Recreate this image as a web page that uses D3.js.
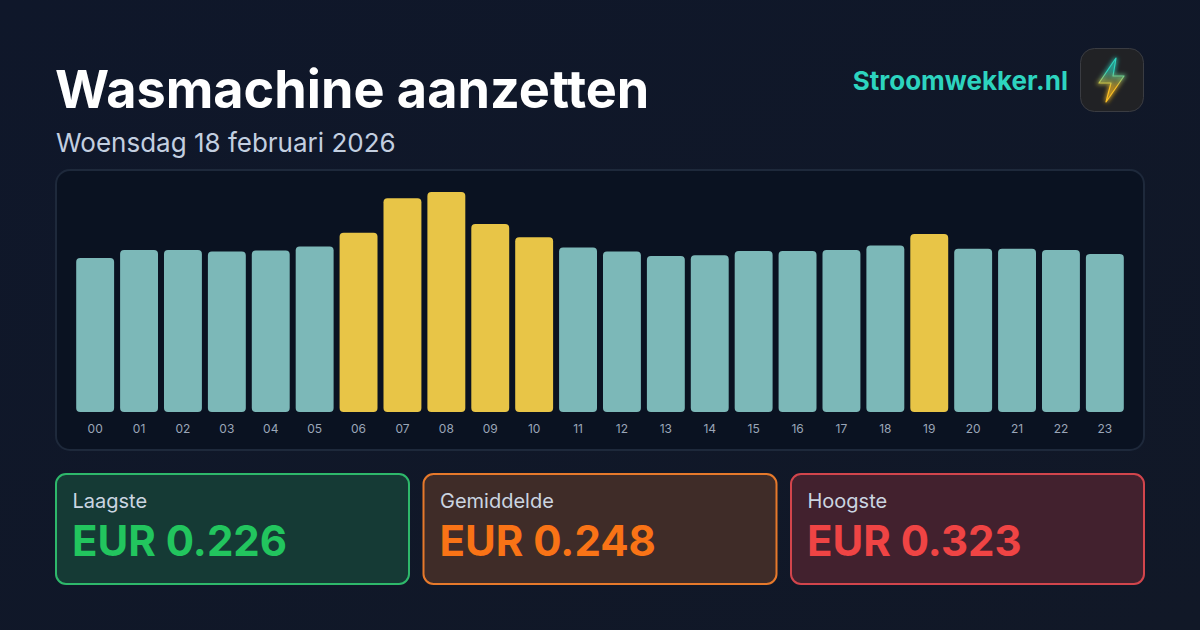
<!DOCTYPE html>
<html><head><meta charset="utf-8">
<script src="https://cdn.jsdelivr.net/npm/d3@7"></script>
<style>
html,body{margin:0;padding:0;background:#0f172a;overflow:hidden}
text{font-family:Inter,sans-serif}
</style></head><body>
<svg id="c" width="1200" height="630"></svg>
<script>
const hours=["00","01","02","03","04","05","06","07","08","09","10","11","12","13","14","15","16","17","18","19","20","21","22","23"];
const prices=[0.226,0.238,0.238,0.2356,0.237,0.243,0.263,0.314,0.323,0.276,0.2565,0.2415,0.2356,0.229,0.230,0.2364,0.2364,0.238,0.2445,0.2612,0.2395,0.2395,0.238,0.232];
const bestHours=["06","07","08","09","10","19"];
const title="Wasmachine aanzetten", subtitle="Woensdag 18 februari 2026", brand="Stroomwekker.nl";
const statLabels=["Laagste","Gemiddelde","Hoogste"];
const statValues=["EUR 0.226","EUR 0.248","EUR 0.323"];
const statColors=["#22c55e","#f97316","#ef4444"];
const statBorders=["#2eb86b","#e6792b","#d2454c"];
const statFills=["#153a35","#3f2c28","#42212e"];

const svg=d3.select("#c");
const defs=svg.append("defs");
const bg=defs.append("linearGradient").attr("id","bg").attr("x1",0).attr("y1",0).attr("x2",1).attr("y2",1);
bg.append("stop").attr("offset",0).attr("stop-color","#0f172a");
bg.append("stop").attr("offset",1).attr("stop-color","#111827");
const bolt=defs.append("linearGradient").attr("id","bolt").attr("x1",0).attr("y1",0).attr("x2",0).attr("y2",1);
bolt.append("stop").attr("offset",0.3).attr("stop-color","#2dd4bf");
bolt.append("stop").attr("offset",0.65).attr("stop-color","#fbbf24");
const glow=defs.append("filter").attr("id","glow").attr("x","-50%").attr("y","-50%").attr("width","200%").attr("height","200%");
glow.append("feGaussianBlur").attr("stdDeviation",2);

svg.append("rect").attr("width",1200).attr("height",630).attr("fill","url(#bg)");
svg.append("text").attr("x",55).attr("y",108).attr("font-size",52.2).attr("font-weight",700).attr("fill","#ffffff").text(title);
svg.append("text").attr("x",56).attr("y",152).attr("font-size",26).attr("fill","#c3cfe0").text(subtitle);
svg.append("text").attr("x",1068).attr("y",90).attr("text-anchor","end").attr("font-size",26).attr("font-weight",700).attr("fill","#2dd4bf").text(brand);

// logo
svg.append("rect").attr("x",1080.5).attr("y",48.5).attr("width",63).attr("height",63).attr("rx",14).attr("fill","#212225").attr("stroke","#3a3c42");
const boltPath="M1116 58 L1099 83 L1111 83 L1106 102 L1124 76 L1113 76 Z";
svg.append("path").attr("d",boltPath).attr("fill","url(#bolt)").attr("fill-opacity",0.35).attr("stroke","url(#bolt)").attr("stroke-width",3).attr("stroke-opacity",0.7).attr("filter","url(#glow)");
svg.append("path").attr("d",boltPath).attr("fill","url(#bolt)").attr("fill-opacity",0.12).attr("stroke","url(#bolt)").attr("stroke-width",1.2).attr("stroke-linejoin","round");

// chart panel
svg.append("rect").attr("x",56).attr("y",170).attr("width",1088).attr("height",280).attr("rx",14).attr("fill","#0a1221").attr("stroke","#1e293b").attr("stroke-width",2);
const x=d3.scaleBand().domain(hours).range([74,1126]).paddingInner(6/44).paddingOuter(0.05);
const y=d3.scaleLinear().domain([0,0.323]).range([412,192]);
svg.append("g").selectAll("path").data(hours).join("path")
 .attr("d",(h,i)=>{
   const x0=x(h),w=x.bandwidth(),t=y(prices[i]),b=y(0),r=4;
   return `M${x0},${b-r}V${t+r}Q${x0},${t} ${x0+r},${t}H${x0+w-r}Q${x0+w},${t} ${x0+w},${t+r}V${b-r}Q${x0+w},${b} ${x0+w-r},${b}H${x0+r}Q${x0},${b} ${x0},${b-r}Z`;
 })
 .attr("fill",h=>bestHours.includes(h)?"#e8c547":"#7cb8b8");
const ax=svg.append("g").attr("transform","translate(0,421.5)").call(d3.axisBottom(x).tickSize(0).tickPadding(3));
ax.select(".domain").remove();
ax.selectAll("text").attr("font-size",12).attr("fill","#9aa6b8").style("font-family","Inter,sans-serif");

// stat cards
const cardX=d3.scaleBand().domain(statLabels).range([56,1144]).paddingInner(14.5/367.5);
const cards=svg.append("g").selectAll("g").data(statLabels).join("g").attr("transform",d=>`translate(${cardX(d)},474)`);
cards.append("rect").attr("width",cardX.bandwidth()).attr("height",110).attr("rx",10)
 .attr("fill",(d,i)=>statFills[i]).attr("stroke",(d,i)=>statBorders[i]).attr("stroke-width",2);
cards.append("text").attr("x",16.5).attr("y",34).attr("font-size",20).attr("fill","#cbd5e1").text(d=>d);
cards.append("text").attr("x",16).attr("y",82).attr("font-size",42).attr("font-weight",700).attr("fill",(d,i)=>statColors[i]).text((d,i)=>statValues[i]);
</script>
</body></html>
